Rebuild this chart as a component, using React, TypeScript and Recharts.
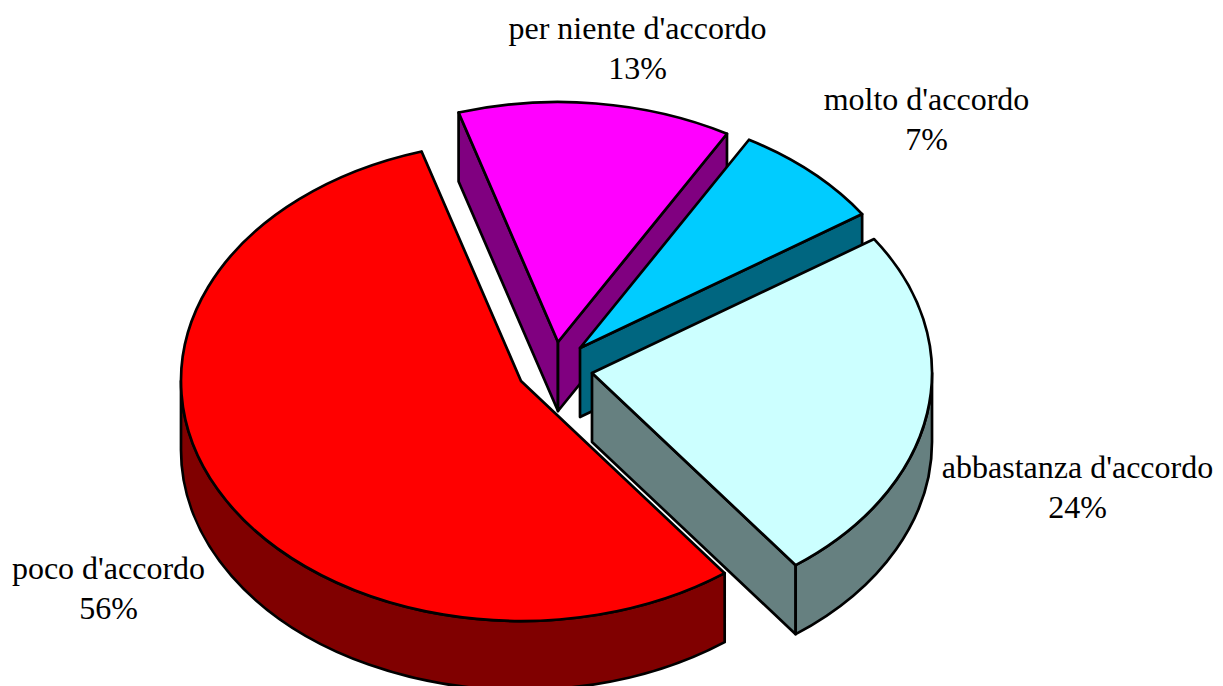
import { PieChart, Pie } from "recharts"

const categories = ["per niente d'accordo", "molto d'accordo", "abbastanza d'accordo", "poco d'accordo"]
const shares = [13, 7.3, 24.2, 55.5]

const topColors = ["#ff00ff", "#00ccff", "#ccffff", "#ff0000"]
const sideColors = ["#800080", "#006680", "#668080", "#800000"]
// how far each slice is pulled out of the pie, in pixels
const explodeX = [37, 59, 71, 0]
const explodeY = [-39, -33, -8, 0]
const labelX = [637.5, 926.5, 1077.5, 108.5]
const labelY = [38.5, 110, 477.5, 578.5]

const SQUASH = 240 / 340
const DEPTH = 69
const LINE_WIDTH = 2.7
const RAD = Math.PI / 180

const rows = categories.map((name, i) => ({ name, value: shares[i] }))

function Slice3D(props: any) {
  const { cx, cy, outerRadius: rx, startAngle, endAngle, name } = props
  const i = categories.indexOf(name)
  const ox = cx + explodeX[i]
  const oy = cy + explodeY[i]
  const ry = rx * SQUASH

  const pt = (deg: number, drop = 0) =>
    [ox + rx * Math.cos(deg * RAD), oy - ry * Math.sin(deg * RAD) + drop] as const
  const arc = (to: number, from: number, drop = 0, reverse = false) => {
    const [x, y] = pt(to, drop)
    const large = Math.abs(to - from) > 180 ? 1 : 0
    return `A ${rx} ${ry} 0 ${large} ${reverse ? 0 : 1} ${x} ${y}`
  }

  const [sx, sy] = pt(startAngle)
  const [ex, ey] = pt(endAngle)

  const walls: string[] = []
  // radial walls only show when the slice sits above the cut
  if (sx < ox) {
    walls.push(`M ${ox} ${oy} L ${sx} ${sy} L ${sx} ${sy + DEPTH} L ${ox} ${oy + DEPTH} Z`)
  }
  if (ex > ox) {
    walls.push(`M ${ox} ${oy} L ${ex} ${ey} L ${ex} ${ey + DEPTH} L ${ox} ${oy + DEPTH} Z`)
  }

  // rim is only visible on the front half of the ellipse
  const rimStart = Math.min(startAngle, 0)
  const rimEnd = Math.max(endAngle, -180)
  if (rimStart > rimEnd) {
    const [ax, ay] = pt(rimStart)
    const [bx, by] = pt(rimEnd)
    walls.push(
      `M ${ax} ${ay} ${arc(rimEnd, rimStart)} L ${bx} ${by + DEPTH} ${arc(rimStart, rimEnd, DEPTH, true)} L ${ax} ${ay} Z`
    )
  }

  return (
    <g>
      {walls.map((d) => (
        <path key={d} d={d} fill={sideColors[i]} stroke="#000000" strokeWidth={LINE_WIDTH} strokeLinejoin="round" />
      ))}
      <path
        d={`M ${ox} ${oy} L ${sx} ${sy} ${arc(endAngle, startAngle)} Z`}
        fill={topColors[i]}
        stroke="#000000"
        strokeWidth={LINE_WIDTH}
        strokeLinejoin="round"
      />
    </g>
  )
}

function SliceLabel(props: any) {
  const i = categories.indexOf(props.name)
  const style = { fontFamily: "'Liberation Serif', serif", fontSize: 32, fill: "#000000" }
  return (
    <g>
      <text x={labelX[i]} y={labelY[i]} textAnchor="middle" style={style}>
        {categories[i]}
      </text>
      <text x={labelX[i]} y={labelY[i] + 40} textAnchor="middle" style={style}>
        {Math.round(shares[i])}%
      </text>
    </g>
  )
}

export default function App() {
  return (
    <div style={{ position: "absolute", left: 0, top: 0, width: 1223, height: 686, overflow: "hidden", background: "#ffffff" }}>
      <PieChart width={1223} height={686} margin={{ top: 0, right: 0, bottom: 0, left: 0 }}>
        <Pie
          data={rows}
          dataKey="value"
          nameKey="name"
          cx={521}
          cy={381}
          innerRadius={0}
          outerRadius={340}
          startAngle={107}
          endAngle={-253}
          paddingAngle={0}
          shape={Slice3D}
          label={SliceLabel}
          labelLine={false}
          isAnimationActive={false}
        />
      </PieChart>
    </div>
  )
}
